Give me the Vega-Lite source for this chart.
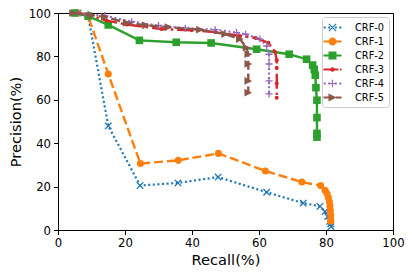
{
  "$schema": "https://vega.github.io/schema/vega-lite/v6.json",
  "width": 335,
  "height": 217,
  "autosize": {"type": "none"},
  "padding": {"left": 58, "top": 13, "right": 19, "bottom": 45},
  "background": "white",
  "config": {
    "font": "DejaVu Sans",
    "view": {"stroke": "black", "strokeWidth": 1},
    "axis": {
      "grid": false, "domainColor": "black", "tickColor": "black", "labelColor": "black", "titleColor": "black",
      "labelFontSize": 11.7, "titleFontSize": 14.6, "titleFontWeight": "normal", "tickSize": 4.5,
      "labelPadding": 3, "domainWidth": 1, "tickWidth": 1, "labelFont": "DejaVu Sans", "titleFont": "DejaVu Sans",
      "labelFlush": false, "labelOverlap": false
    },
    "axisX": {"titlePadding": 3},
    "axisY": {"titlePadding": 5},
    "legend": {
      "orient": "top-right", "offset": 4, "padding": 4, "strokeColor": "#cccccc", "fillColor": "rgba(255,255,255,0.8)",
      "cornerRadius": 3, "labelFont": "DejaVu Sans", "labelFontSize": 9.8, "labelColor": "black",
      "symbolSize": 169, "rowPadding": 2, "labelOffset": 16, "symbolStrokeWidth": 0, "symbolOpacity": 1
    }
  },
  "data": {"values": [
    {"s": "CRF-0", "r": 6, "p": 100}, {"s": "CRF-0", "r": 9, "p": 98.5}, {"s": "CRF-0", "r": 15, "p": 48},
    {"s": "CRF-0", "r": 24.5, "p": 20.5}, {"s": "CRF-0", "r": 35.8, "p": 21.7}, {"s": "CRF-0", "r": 47.8, "p": 24.4},
    {"s": "CRF-0", "r": 62.3, "p": 17.4}, {"s": "CRF-0", "r": 73.2, "p": 12.4}, {"s": "CRF-0", "r": 78.2, "p": 10.9},
    {"s": "CRF-0", "r": 79.7, "p": 8.5}, {"s": "CRF-0", "r": 80.5, "p": 6.2}, {"s": "CRF-0", "r": 81.1, "p": 4},
    {"s": "CRF-0", "r": 81.4, "p": 2.8}, {"s": "CRF-0", "r": 81.5, "p": 1.5},

    {"s": "CRF-1", "r": 6, "p": 100}, {"s": "CRF-1", "r": 9, "p": 98.5}, {"s": "CRF-1", "r": 15, "p": 71.9},
    {"s": "CRF-1", "r": 24.6, "p": 30.6}, {"s": "CRF-1", "r": 35.9, "p": 32.1}, {"s": "CRF-1", "r": 47.9, "p": 35.3},
    {"s": "CRF-1", "r": 61.9, "p": 27.2}, {"s": "CRF-1", "r": 72.8, "p": 22.1}, {"s": "CRF-1", "r": 78.4, "p": 20.5},
    {"s": "CRF-1", "r": 79.7, "p": 18.3}, {"s": "CRF-1", "r": 80.3, "p": 16.8}, {"s": "CRF-1", "r": 80.7, "p": 15},
    {"s": "CRF-1", "r": 81, "p": 13}, {"s": "CRF-1", "r": 81.2, "p": 11}, {"s": "CRF-1", "r": 81.3, "p": 9},
    {"s": "CRF-1", "r": 81.4, "p": 7}, {"s": "CRF-1", "r": 81.4, "p": 5}, {"s": "CRF-1", "r": 81.4, "p": 4},

    {"s": "CRF-2", "r": 5, "p": 100}, {"s": "CRF-2", "r": 9, "p": 98.6}, {"s": "CRF-2", "r": 15, "p": 94.5},
    {"s": "CRF-2", "r": 24.3, "p": 87.4}, {"s": "CRF-2", "r": 35.3, "p": 86.5}, {"s": "CRF-2", "r": 45.7, "p": 86.2},
    {"s": "CRF-2", "r": 59.3, "p": 83.3}, {"s": "CRF-2", "r": 69, "p": 81}, {"s": "CRF-2", "r": 74.2, "p": 78.7},
    {"s": "CRF-2", "r": 76, "p": 76}, {"s": "CRF-2", "r": 76.5, "p": 74}, {"s": "CRF-2", "r": 76.8, "p": 71.3},
    {"s": "CRF-2", "r": 77, "p": 65.6}, {"s": "CRF-2", "r": 77.3, "p": 59.8}, {"s": "CRF-2", "r": 77.3, "p": 51.8},
    {"s": "CRF-2", "r": 77.3, "p": 44.5}, {"s": "CRF-2", "r": 77.3, "p": 42.8},

    {"s": "CRF-3", "r": 6, "p": 100}, {"s": "CRF-3", "r": 9.5, "p": 99}, {"s": "CRF-3", "r": 14.5, "p": 96.5},
    {"s": "CRF-3", "r": 20.5, "p": 94.7}, {"s": "CRF-3", "r": 30.9, "p": 92.6}, {"s": "CRF-3", "r": 39.9, "p": 92},
    {"s": "CRF-3", "r": 47, "p": 91.2}, {"s": "CRF-3", "r": 54.3, "p": 89.4}, {"s": "CRF-3", "r": 59, "p": 88.5},
    {"s": "CRF-3", "r": 62.8, "p": 86.3}, {"s": "CRF-3", "r": 64.8, "p": 82}, {"s": "CRF-3", "r": 65.3, "p": 78.2},
    {"s": "CRF-3", "r": 65.3, "p": 74.8}, {"s": "CRF-3", "r": 65.3, "p": 67.5}, {"s": "CRF-3", "r": 65.3, "p": 61},

    {"s": "CRF-4", "r": 6, "p": 100}, {"s": "CRF-4", "r": 9, "p": 99.2}, {"s": "CRF-4", "r": 14, "p": 98.8},
    {"s": "CRF-4", "r": 22, "p": 96}, {"s": "CRF-4", "r": 30, "p": 94.2}, {"s": "CRF-4", "r": 38, "p": 93},
    {"s": "CRF-4", "r": 46.9, "p": 92.3}, {"s": "CRF-4", "r": 53.3, "p": 91}, {"s": "CRF-4", "r": 56, "p": 90.2},
    {"s": "CRF-4", "r": 60.3, "p": 88}, {"s": "CRF-4", "r": 62.3, "p": 84.8}, {"s": "CRF-4", "r": 63, "p": 81},
    {"s": "CRF-4", "r": 63, "p": 76.5}, {"s": "CRF-4", "r": 63, "p": 68.7}, {"s": "CRF-4", "r": 63, "p": 62.7},

    {"s": "CRF-5", "r": 4.5, "p": 100}, {"s": "CRF-5", "r": 10, "p": 99}, {"s": "CRF-5", "r": 14, "p": 98.2},
    {"s": "CRF-5", "r": 20.5, "p": 95.5}, {"s": "CRF-5", "r": 26.3, "p": 94.3}, {"s": "CRF-5", "r": 33, "p": 93.5},
    {"s": "CRF-5", "r": 42.4, "p": 92.3}, {"s": "CRF-5", "r": 49.9, "p": 90.3}, {"s": "CRF-5", "r": 54.3, "p": 88},
    {"s": "CRF-5", "r": 56.3, "p": 84}, {"s": "CRF-5", "r": 56.8, "p": 81}, {"s": "CRF-5", "r": 56.8, "p": 76.5},
    {"s": "CRF-5", "r": 56.8, "p": 68.7}, {"s": "CRF-5", "r": 56.8, "p": 63.3}
  ]},
  "encoding": {
    "x": {"field": "r", "type": "quantitative", "scale": {"domain": [0, 100], "nice": false}, "axis": {"title": "Recall(%)", "values": [0, 20, 40, 60, 80, 100]}},
    "y": {"field": "p", "type": "quantitative", "scale": {"domain": [0, 100], "nice": false}, "axis": {"title": "Precision(%)", "values": [0, 20, 40, 60, 80, 100]}},
    "order": {"value": null}
  },
  "layer": [
    {"transform": [{"filter": "datum.s === 'CRF-0'"}],
     "mark": {"type": "line", "color": "#1f77b4", "strokeWidth": 2.2, "strokeDash": [2, 2.6],
       "point": {"shape": "M-1,-1L1,1M-1,1L1,-1", "filled": false, "size": 42, "color": "#1f77b4", "strokeWidth": 1.3, "strokeDash": [1, 0], "opacity": 1}}},
    {"transform": [{"filter": "datum.s === 'CRF-1'"}],
     "mark": {"type": "line", "color": "#ff7f0e", "strokeWidth": 2.4, "strokeDash": [9, 3.9],
       "point": {"shape": "circle", "filled": true, "size": 50, "color": "#ff7f0e", "opacity": 1}}},
    {"transform": [{"filter": "datum.s === 'CRF-2'"}],
     "mark": {"type": "line", "color": "#2ca02c", "strokeWidth": 2.4,
       "point": {"shape": "square", "filled": true, "size": 58, "color": "#2ca02c", "opacity": 1}}},
    {"transform": [{"filter": "datum.s === 'CRF-3'"}],
     "mark": {"type": "line", "color": "#d62728", "strokeWidth": 2.4, "strokeDash": [15, 3.9, 2.4, 3.9],
       "point": {"shape": "circle", "filled": true, "size": 16, "color": "#d62728", "opacity": 1}}},
    {"transform": [{"filter": "datum.s === 'CRF-4'"}],
     "mark": {"type": "line", "color": "#9467bd", "strokeWidth": 2.2, "strokeDash": [2, 2.6],
       "point": {"shape": "M-1,0L1,0M0,-1L0,1", "filled": false, "size": 50, "color": "#9467bd", "strokeWidth": 1.3, "strokeDash": [1, 0], "opacity": 1}}},
    {"transform": [{"filter": "datum.s === 'CRF-5'"}],
     "mark": {"type": "line", "color": "#8c564b", "strokeWidth": 2.4, "strokeDash": [9, 3.9],
       "point": {"shape": "M-1,-1L1,0L-1,1Z", "filled": true, "size": 60, "color": "#8c564b", "opacity": 1}}},
    {"transform": [{"filter": "false"}],
     "mark": {"type": "point", "filled": true, "opacity": 1, "size": 169},
     "encoding": {
       "color": {"field": "s", "type": "nominal",
         "scale": {"domain": ["CRF-0", "CRF-1", "CRF-2", "CRF-3", "CRF-4", "CRF-5"], "range": ["#1f77b4", "#ff7f0e", "#2ca02c", "#d62728", "#9467bd", "#8c564b"]},
         "legend": {"title": null}},
       "shape": {"field": "s", "type": "nominal",
         "scale": {"domain": ["CRF-0", "CRF-1", "CRF-2", "CRF-3", "CRF-4", "CRF-5"], "range": [
           "M-1.354,-0.17H-1.046V0.17H-1.354Z M-0.664,-0.17H-0.356V0.17H-0.664Z M0.356,-0.17H0.664V0.17H0.356Z M1.046,-0.17H1.354V0.17H1.046Z M-0.625,-0.495L0.495,0.625L0.625,0.495L-0.495,-0.625Z M-0.495,0.625L0.625,-0.495L0.495,-0.625L-0.625,0.495Z",
           "M-1.385,-0.17H-0.5V0.17H-1.385Z M0.5,-0.17H1.385V0.17H0.5Z M-0.615,0A0.615,0.615 0 1,1 0.615,0A0.615,0.615 0 1,1 -0.615,0Z",
           "M-1.385,-0.17H-0.5V0.17H-1.385Z M0.5,-0.17H1.385V0.17H0.5Z M-0.615,-0.615H0.615V0.615H-0.615Z",
           "M-1.385,-0.17H-0.15V0.17H-1.385Z M0.3,-0.17H0.9V0.17H0.3Z M1.15,-0.17H1.385V0.17H1.15Z M-0.35,0A0.35,0.35 0 1,1 0.35,0A0.35,0.35 0 1,1 -0.35,0Z",
           "M-1.354,-0.17H-1.046V0.17H-1.354Z M-0.664,-0.17H-0.356V0.17H-0.664Z M0.356,-0.17H0.664V0.17H0.356Z M1.046,-0.17H1.354V0.17H1.046Z M-0.56,-0.092H0.56V0.092H-0.56Z M-0.092,-0.56H0.092V0.56H-0.092Z",
           "M-1.385,-0.17H-0.4V0.17H-1.385Z M0.5,-0.17H1.385V0.17H0.5Z M-0.615,-0.615L0.615,0L-0.615,0.615Z"
         ]},
         "legend": {"title": null}}
     }}
  ]
}
